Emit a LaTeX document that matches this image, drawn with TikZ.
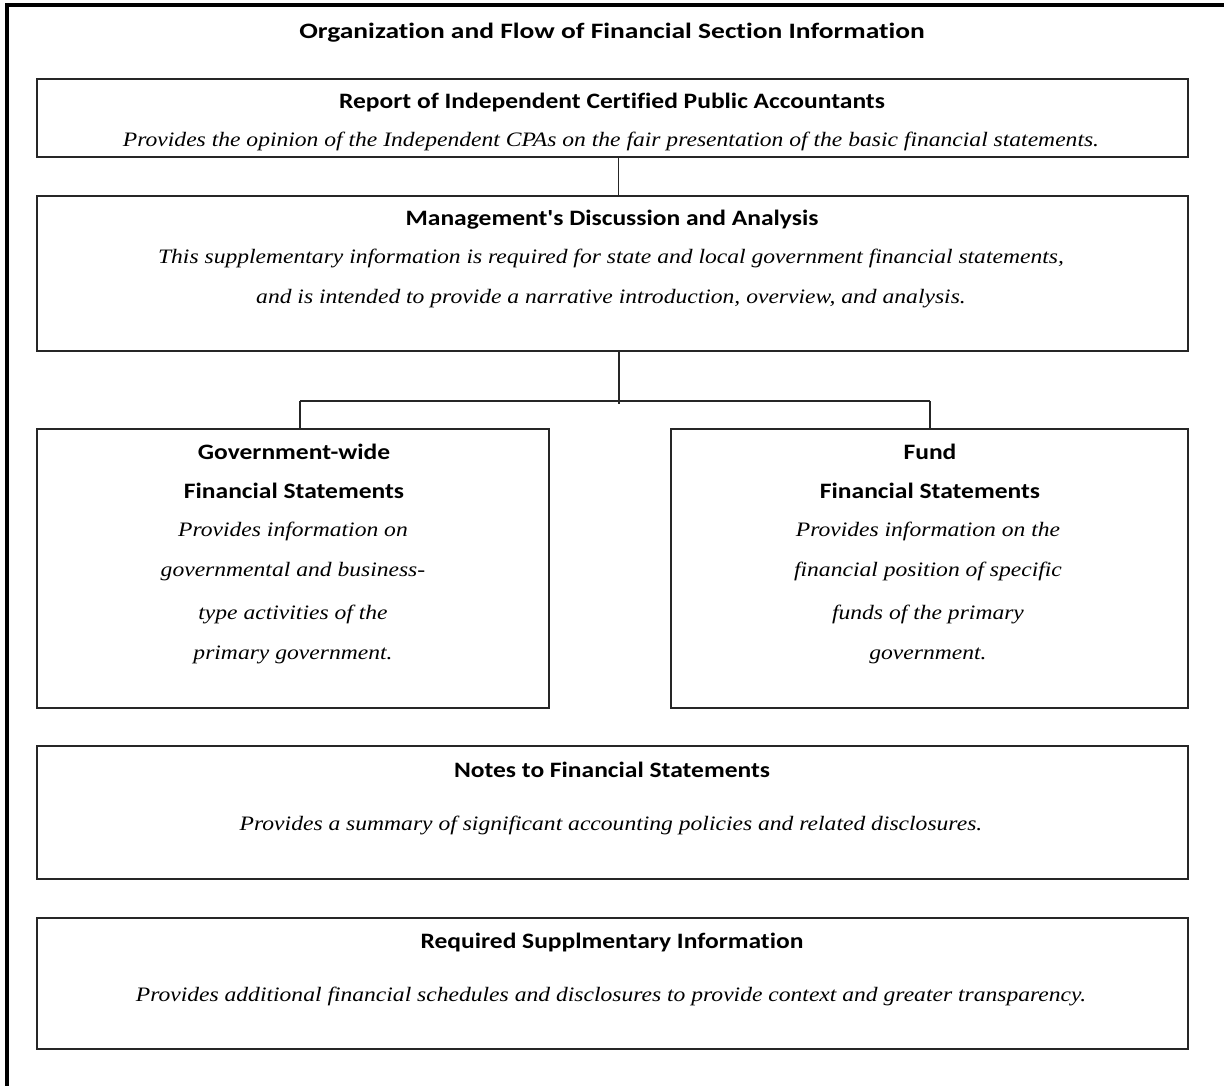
\documentclass[tikz,border=0pt]{standalone}
\usepackage{fontspec}
\setmainfont{Carlito}
\newfontfamily\hdf{Carlito}[FakeStretch=1.16,Ligatures=NoCommon]
\newfontfamily\ttlf{Carlito}[FakeStretch=1.25,Ligatures=NoCommon]
\newfontfamily\itf{Liberation Serif}[FakeStretch=1.15]
\begin{document}
\begin{tikzpicture}[x=1pt,y=-1pt,
  box/.style={draw=black!85,line width=1.4pt,inner sep=0pt,outer sep=0pt,rectangle},
  hd/.style={font=\fontsize{22}{22}\hdf\bfseries,inner sep=0pt,anchor=base},
  ttl/.style={font=\fontsize{22}{22}\ttlf\bfseries,inner sep=0pt,anchor=base},
  it/.style={font=\fontsize{20.5}{20.5}\itf\itshape,inner sep=0pt,anchor=base},
  conn/.style={draw=black!85,line width=1.4pt}]
\useasboundingbox (0,0) rectangle (1224,1086);
\draw[line width=4pt] (7,1086) -- (7,5) -- (1224,5);
\node[ttl] (title) at (612,39) {Organization and Flow of Financial Section Information};
% boxes
\node[box,minimum width=1151pt,minimum height=78pt] (b1) at (612.5,118) {};
\node[box,minimum width=1151pt,minimum height=155pt] (b2) at (612.5,273.5) {};
\node[box,minimum width=512pt,minimum height=279pt] (gw) at (293,568.5) {};
\node[box,minimum width=517pt,minimum height=279pt] (fs) at (929.5,568.5) {};
\node[box,minimum width=1151pt,minimum height=133pt] (nt) at (612.5,812.5) {};
\node[box,minimum width=1151pt,minimum height=131pt] (rs) at (612.5,983.5) {};
% texts
\node[hd] (t1a) at (612,109) {Report of Independent Certified Public Accountants};
\node[it] (t1b) at (611,147) {Provides the opinion of the Independent CPAs on the fair presentation of the basic financial statements.};
\node[hd] (t2a) at (612,226) {Management{\char"0027}s Discussion and Analysis};
\node[it] (t2b) at (611,264) {This supplementary information is required for state and local government financial statements,};
\node[it] (t2c) at (611,303) {and is intended to provide a narrative introduction, overview, and analysis.};
\node[hd] (g1) at (294,459) {Government-wide};
\node[hd] (g2) at (294,498) {Financial Statements};
\node[it] (g3) at (293,536) {Provides information on};
\node[it] (g4) at (293,576) {governmental and business-};
\node[it] (g5) at (293,619) {type activities of the};
\node[it] (g6) at (293,659) {primary government.};
\node[hd] (f1) at (930,459) {Fund};
\node[hd] (f2) at (930,498) {Financial Statements};
\node[it] (f3) at (928,536) {Provides information on the};
\node[it] (f4) at (928,576) {financial position of specific};
\node[it] (f5) at (928,619) {funds of the primary};
\node[it] (f6) at (928,659) {government.};
\node[hd] (n1) at (612,777) {Notes to Financial Statements};
\node[it] (n2) at (611,830) {Provides a summary of significant accounting policies and related disclosures.};
\node[hd] (r1) at (612,948) {Required Supplmentary Information};
\node[it] (r2) at (611,1001) {Provides additional financial schedules and disclosures to provide context and greater transparency.};
% connectors
\draw[conn] ([xshift=6pt]b1.south) -- ([xshift=6pt]b1.south |- b2.north);
\coordinate (j) at (619,401);
\coordinate (hl) at (300,401);
\coordinate (hr) at (930,401);
\draw[conn] (j |- b2.south) -- ([yshift=-3pt]j);
\draw[conn] (hl) -- (hr);
\draw[conn] (hl) -- (hl |- gw.north);
\draw[conn] (hr) -- (hr |- fs.north);
\end{tikzpicture}
\end{document}
